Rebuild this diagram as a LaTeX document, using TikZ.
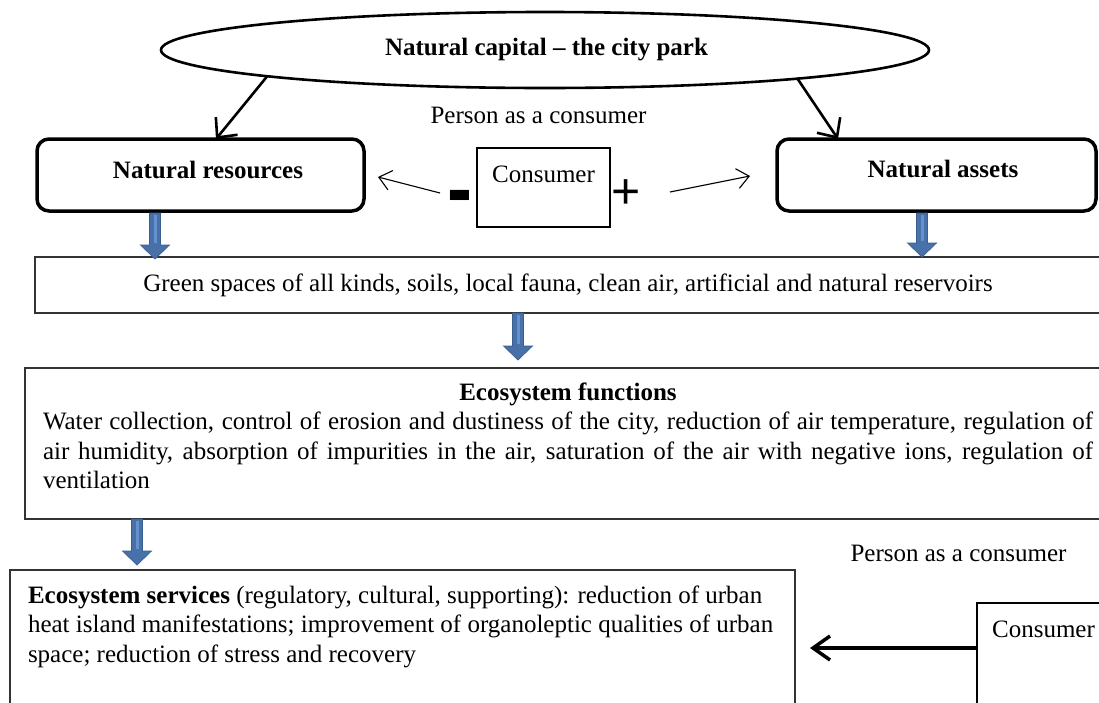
\documentclass[tikz,border=0pt]{standalone}
\usepackage{graphicx}
\usepackage{fontspec}
\setmainfont{Liberation Serif}
\setsansfont{Liberation Sans}
\usetikzlibrary{arrows.meta,shapes.geometric,calc}
\definecolor{arrowblue}{HTML}{4771A8}
\definecolor{arrowlight}{HTML}{6592CF}
\definecolor{arrowedge}{HTML}{3A5F8F}
\newcommand\myfs{\fontsize{25}{29.5}\selectfont}
\newcommand\fatarrow[2]{%
  \filldraw[fill=arrowblue, draw=arrowedge, line width=0.7pt]
    ($(#1)+(-5.5,0)$) -- ($(#1)+(5.5,0)$) -- ($(#2)+(5.5,-14)$) -- ($(#2)+(14.5,-14)$)
    -- (#2) -- ($(#2)+(-14.5,-14)$) -- ($(#2)+(-5.5,-14)$) -- cycle;
  \draw[arrowlight, line width=3pt] ($(#1)+(0,2)$) -- ($(#2)+(0,-16)$);
}
\tikzset{
  every node/.style={inner sep=0pt, outer sep=0pt, font=\myfs},
  roundbox/.style={draw, line width=3.5pt, rounded corners=12pt},
  flowbox/.style={draw=black!80, line width=1.1pt},
  consbox/.style={draw, line width=1.3pt, minimum width=133pt, text height=34pt},
  blackarrow/.style={line width=2.6pt, -{Straight Barb[length=15pt,width=28pt]}},
  thinarrow/.style={line width=1.1pt, -{Straight Barb[length=12pt,width=20pt]}},
  consarrow/.style={line width=3.5pt, -{Straight Barb[length=17pt,width=24pt]}},
}
\begin{document}
\begin{tikzpicture}[x=1pt,y=-1pt]
\useasboundingbox (0,0) rectangle (1099,702);
\clip (0,0) rectangle (1099,702);
\fill[white] (0,0) rectangle (1099,702);

% top ellipse
\node[draw, ellipse, line width=2.6pt, minimum width=768pt, minimum height=76pt] (cap) at (545,50) {};
\node[font=\myfs\bfseries] (captxt) at (546.5,50) {Natural capital – the city park};
\node (person1) at (538.5,115) {Person as a consumer};

% resources / assets
\node[roundbox, minimum width=327pt, text height=39pt, text depth=33pt] (nr) at (200.5,175) {\hspace*{15pt}\textbf{Natural resources}};
\node[roundbox, minimum width=319pt, text height=38pt, text depth=34pt] (na) at (936.5,175) {\hspace*{13pt}\textbf{Natural assets}};

\coordinate (capL) at ($(cap.center)+(-278,26.5)$);
\coordinate (capR) at ($(cap.center)+(252,28)$);
\draw[blackarrow] (capL) -- (nr.north -| 216,0);
\draw[blackarrow] (capR) -- (na.north -| 838,0);

% consumer in the middle
\node[consbox, text depth=45pt, anchor=north] (cons1) at (543.5,148) {Consumer};
\node[font=\fontsize{50}{50}\selectfont\sffamily\bfseries] (minus) at (460,204) {\scalebox{1.5}[1.7]{-}};
\node[font=\fontsize{50}{50}\selectfont\sffamily] (plus) at (626,194) {+};
\coordinate (la1) at (440,193);
\coordinate (la2) at (378,177);
\coordinate (ra1) at (670,192);
\coordinate (ra2) at (750,176);
\draw[thinarrow] (la1) -- (la2);
\draw[thinarrow] (ra1) -- (ra2);

% green spaces
\node[flowbox, minimum width=1066pt, minimum height=56pt] (green) at (568,285) {Green spaces of all kinds, soils, local fauna, clean air, artificial and natural reservoirs};

% ecosystem functions
\node[flowbox, minimum width=1088pt, minimum height=151pt, anchor=north west] (efun) at (25,368) {};
\node[anchor=base west] (efuntxt) at (43,400) {\parbox[t]{1050pt}{\centering\textbf{Ecosystem functions}\\
\makebox[\linewidth][s]{Water collection, control of erosion and dustiness of the city, reduction of air temperature, regulation of}\\
\makebox[\linewidth][s]{air humidity, absorption of impurities in the air, saturation of the air with negative ions, regulation of}\\
\makebox[\linewidth][l]{ventilation}}};

% ecosystem services
\node[flowbox, minimum width=785pt, minimum height=170pt, anchor=north west] (serv) at (10,570) {};
\node[anchor=base west] (servtxt) at (28,603) {\parbox[t]{800pt}{\raggedright\textbf{Ecosystem services} (regulatory, cultural, supporting): reduction of urban\\
heat island manifestations; improvement of organoleptic qualities of urban\\
space; reduction of stress and recovery}};

\node (person2) at (958.5,553) {Person as a consumer};
\node[consbox, text depth=110pt, anchor=north west] (cons2) at (977,603) {Consumer};
\draw[consarrow, shorten >=15pt] (cons2.west |- 0,648) -- (serv.east |- 0,648);

% blue arrows
\coordinate (b1s) at ($(nr.south -| 155,0)+(0,2)$);
\coordinate (b1e) at ($(green.north -| 155,0)+(0,2)$);
\coordinate (b2s) at ($(na.south -| 922,0)+(0,2)$);
\coordinate (b2e) at (green.north -| 922,0);
\coordinate (b3s) at (green.south -| 518,0);
\coordinate (b3e) at ($(efun.north -| 518,0)+(0,-8)$);
\coordinate (b4s) at (efun.south -| 137,0);
\coordinate (b4e) at ($(serv.north -| 137,0)+(0,-5)$);
\fatarrow{b1s}{b1e}
\fatarrow{b2s}{b2e}
\fatarrow{b3s}{b3e}
\fatarrow{b4s}{b4e}
\end{tikzpicture}
\end{document}
